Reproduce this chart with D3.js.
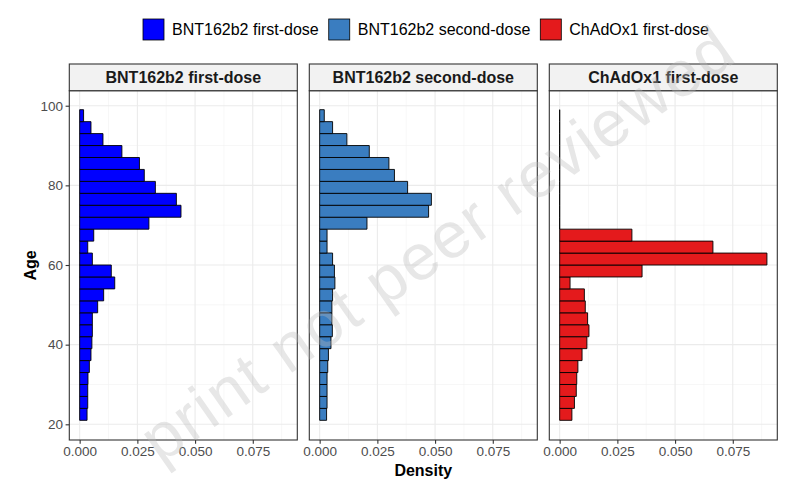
<!DOCTYPE html>
<html>
<head>
<meta charset="utf-8">
<script src="https://cdn.jsdelivr.net/npm/d3@7"></script>
<style>
  html, body { margin: 0; padding: 0; background: #fff; }
  svg { display: block; font-family: "Liberation Sans", Arial, Helvetica, sans-serif; }
</style>
</head>
<body>
<svg id="chart" width="800" height="488"></svg>
<script>
// ---------------- data ----------------
const seriesNames = ["BNT162b2 first-dose", "BNT162b2 second-dose", "ChAdOx1 first-dose"];
const seriesColors = ["#0000FF", "#3A7DC0", "#E41A1C"];
const binWidth = 3;
const ageBinStart = [21, 24, 27, 30, 33, 36, 39, 42, 45, 48, 51, 54, 57, 60, 63, 66, 69, 72, 75, 78, 81, 84, 87, 90, 93, 96];
const bntFirst = [0.0032, 0.0035, 0.0035, 0.0036, 0.0042, 0.0049, 0.0053, 0.0055, 0.0055, 0.0078, 0.0104, 0.0152, 0.0137, 0.0055, 0.0035, 0.0061, 0.0300, 0.0439, 0.0419, 0.0328, 0.0280, 0.0259, 0.0183, 0.0101, 0.0049, 0.0017];
const bntSecond = [0.0030, 0.0032, 0.0032, 0.0032, 0.0035, 0.0038, 0.0049, 0.0055, 0.0053, 0.0053, 0.0056, 0.0066, 0.0064, 0.0056, 0.0032, 0.0032, 0.0205, 0.0472, 0.0484, 0.0381, 0.0324, 0.0300, 0.0215, 0.0118, 0.0056, 0.0020];
const chadFirst = [0.0053, 0.0064, 0.0072, 0.0074, 0.0079, 0.0097, 0.0118, 0.0127, 0.0121, 0.0111, 0.0107, 0.0045, 0.0357, 0.0898, 0.0664, 0.0313, 0, 0, 0, 0, 0, 0, 0, 0, 0, 0];
const xTicks = [0, 0.025, 0.05, 0.075];
const xTickLabels = ["0.000", "0.025", "0.050", "0.075"];
const xMinorTicks = [0.0125, 0.0375, 0.0625, 0.0875];
const yTicks = [20, 40, 60, 80, 100];
const yMinorTicks = [30, 50, 70, 90];
const yDomain = [16.06, 103.77];
const xTitle = "Density";
const yTitle = "Age";
const watermarkText = "print not peer reviewed";

const seriesValues = [bntFirst, bntSecond, chadFirst];

// ---------------- layout ----------------
const svg = d3.select("#chart");
const panelLeft0 = 69.3, panelW = 228, panelGap = 12;
const panelTop = 90.7, panelBottom = 440, stripTop = 64;
const font = "'Liberation Sans', Arial, Helvetica, sans-serif";

const allMax = d3.max(seriesValues.flat());
const pad = allMax * 0.05;

const y = d3.scaleLinear().domain(yDomain).range([panelBottom, panelTop]);

seriesNames.forEach((name, i) => {
  const x0 = panelLeft0 + i * (panelW + panelGap);
  const x = d3.scaleLinear().domain([-pad, allMax + pad]).range([x0, x0 + panelW]);
  const g = svg.append("g");

  g.append("rect").attr("x", x0).attr("y", panelTop).attr("width", panelW).attr("height", panelBottom - panelTop).attr("fill", "#fff");

  // minor grid
  g.selectAll(".xmin").data(xMinorTicks).join("line")
    .attr("x1", d => x(d)).attr("x2", d => x(d)).attr("y1", panelTop).attr("y2", panelBottom)
    .attr("stroke", "#F2F2F2").attr("stroke-width", 0.6);
  g.selectAll(".ymin").data(yMinorTicks).join("line")
    .attr("y1", d => y(d)).attr("y2", d => y(d)).attr("x1", x0).attr("x2", x0 + panelW)
    .attr("stroke", "#F2F2F2").attr("stroke-width", 0.6);
  // major grid
  g.selectAll(".xmaj").data(xTicks).join("line")
    .attr("x1", d => x(d)).attr("x2", d => x(d)).attr("y1", panelTop).attr("y2", panelBottom)
    .attr("stroke", "#EBEBEB").attr("stroke-width", 1.1);
  g.selectAll(".ymaj").data(yTicks).join("line")
    .attr("y1", d => y(d)).attr("y2", d => y(d)).attr("x1", x0).attr("x2", x0 + panelW)
    .attr("stroke", "#EBEBEB").attr("stroke-width", 1.1);

  // bars
  const vals = seriesValues[i];
  g.selectAll(".bar").data(ageBinStart.map((a, k) => ({ a, v: vals[k] }))).join("path")
    .attr("d", d => {
      const xa = x(0), xb = x(d.v), ya = y(d.a), yb = y(d.a + binWidth);
      return `M${xa},${ya}H${xb}V${yb}H${xa}Z`;
    })
    .attr("fill", seriesColors[i]).attr("stroke", "#000").attr("stroke-width", 0.9);

  // panel border
  g.append("rect").attr("x", x0).attr("y", panelTop).attr("width", panelW).attr("height", panelBottom - panelTop)
    .attr("fill", "none").attr("stroke", "#333333").attr("stroke-width", 1.1);

  // strip
  g.append("rect").attr("x", x0).attr("y", stripTop).attr("width", panelW).attr("height", panelTop - stripTop)
    .attr("fill", "#F2F2F2").attr("stroke", "#333333").attr("stroke-width", 1.1);
  g.append("text").attr("x", x0 + panelW / 2).attr("y", (stripTop + panelTop) / 2).attr("dy", "0.35em")
    .attr("text-anchor", "middle").attr("font-size", 16).attr("font-weight", "bold").attr("fill", "#1A1A1A")
    .attr("font-family", font).text(name);

  // x axis
  const xAxis = d3.axisBottom(x).tickValues(xTicks).tickFormat((d, k) => xTickLabels[k]).tickSize(3.7).tickPadding(3);
  const ax = g.append("g").attr("transform", `translate(0,${panelBottom})`).call(xAxis);
  ax.select(".domain").remove();
  ax.selectAll(".tick line").attr("stroke", "#333333").attr("stroke-width", 1.1);
  ax.selectAll(".tick text").attr("fill", "#4D4D4D").attr("font-size", 13.5).attr("font-family", font);

  if (i === 0) {
    const yAxis = d3.axisLeft(y).tickValues(yTicks).tickSize(3.7).tickPadding(2.5);
    const ay = g.append("g").attr("transform", `translate(${x0},0)`).call(yAxis);
    ay.select(".domain").remove();
    ay.selectAll(".tick line").attr("stroke", "#333333").attr("stroke-width", 1.1);
    ay.selectAll(".tick text").attr("fill", "#4D4D4D").attr("font-size", 13.5).attr("font-family", font);
  }
});

// axis titles
const panelsRight = panelLeft0 + 3 * panelW + 2 * panelGap;
svg.append("text").attr("x", (panelLeft0 + panelsRight) / 2).attr("y", 476)
  .attr("text-anchor", "middle").attr("font-size", 16).attr("font-weight", "bold").attr("fill", "#000")
  .attr("font-family", font).text(xTitle);
svg.append("text").attr("transform", `translate(36,${(panelTop + panelBottom) / 2}) rotate(-90)`)
  .attr("text-anchor", "middle").attr("font-size", 16).attr("font-weight", "bold").attr("fill", "#000")
  .attr("font-family", font).text(yTitle);

// legend
const legend = svg.append("g");
let lx = 143;
const keySize = 21, legendY = 19;
seriesNames.forEach((name, i) => {
  legend.append("rect").attr("x", lx).attr("y", legendY).attr("width", keySize).attr("height", keySize)
    .attr("fill", seriesColors[i]).attr("stroke", "#000").attr("stroke-width", 0.8);
  const t = legend.append("text").attr("x", lx + keySize + 8).attr("y", legendY + keySize / 2).attr("dy", "0.35em")
    .attr("font-size", 16).attr("fill", "#000").attr("font-family", font).text(name);
  lx = lx + keySize + 8 + t.node().getComputedTextLength() + 10;
});

// watermark (kept fully inside the canvas)
svg.append("text").attr("transform", "translate(450,262) rotate(-35)")
  .attr("text-anchor", "middle").attr("font-size", 65).attr("letter-spacing", 2).attr("font-family", font)
  .attr("fill", "#BBBBBB").attr("opacity", 0.35).text(watermarkText);
</script>
</body>
</html>
